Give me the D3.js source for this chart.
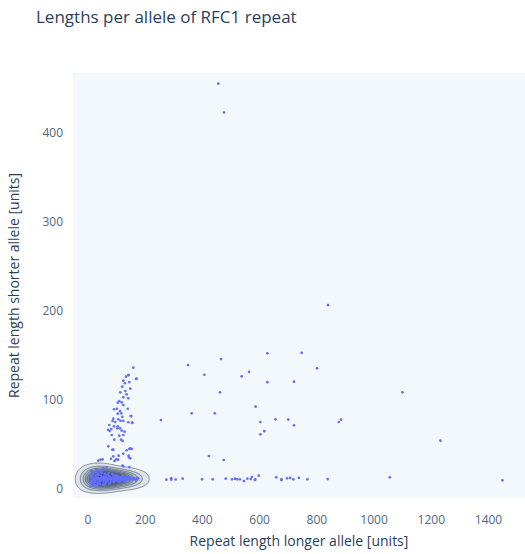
<!DOCTYPE html>
<html><head><meta charset="utf-8">
<script src="https://cdn.jsdelivr.net/npm/d3@7"></script>
<style>body{margin:0;background:#fff;}svg{display:block;font-family:"Open Sans",Verdana,Arial,sans-serif;}</style>
</head><body><div id="chart"></div>
<script>
const titleText = "Lengths per allele of RFC1 repeat";
const xLabel = "Repeat length longer allele [units]";
const yLabel = "Repeat length shorter allele [units]";
const xTicks = [0,200,400,600,800,1000,1200,1400];
const yTicks = [0,100,200,300,400];
const xDomain = [-52.4, 1527.6];
const yDomain = [-10.1, 467.4];

// dense cluster of common alleles [longer, shorter]
const clusterPoints = [
[10,3],[12,6],[11,9],[13,12],[10,15],[14,18],[12,20],[15,4],[16,8],[18,11],[17,14],[19,17],
[22,5],[25,8],[24,12],[27,15],[28,19],[30,22],[32,4],[34,7],[35,10],[36,13],[38,16],[40,20],
[42,6],[44,9],[45,12],[46,15],[48,18],[50,21],[52,5],[54,8],[55,11],[56,14],[58,17],[60,10],
[62,7],[64,13],[66,16],[68,9],[70,12],[72,15],[74,6],[76,11],[78,14],[80,9],[82,12],[84,17],
[86,10],[88,13],[90,8],[92,11],[94,15],[96,10],[98,13],[100,9],[102,12],[104,11],[106,14],
[108,10],[110,12],[112,9],[114,13],[116,11],[118,12],[120,10],[124,13],[126,11],[130,12],
[134,10],[136,13],[140,11],[144,12],[148,10],[150,13],[155,11],[160,12],[165,11],[170,12],
[30,11],[33,12],[40,11],[42,12],[48,11],[50,12],[55,10],[58,12],[62,11],[66,12],[70,10],
[75,12],[80,11],[85,12],[90,11],[95,12],[20,10],[25,11],[38,9],[46,10],[52,13],[60,14],
[35,17],[44,19],[28,13],[31,16],[26,9],[37,6],[58,5],[64,8],[72,18],[78,7],[88,16],[100,15],
[110,8],[120,15],[130,9],[140,14],[175,12],[168,10]
];

// rising arm of expanded shorter alleles
const spikePoints = [
[158.5,136.3],[142,128],[133,126.2],[168,123.6],[123.5,121.7],[129,118.8],[144.5,120.2],
[120,115],[148,112.7],[113,108.6],[130.5,110],[135,106.4],[123.5,103],[141,102],[109.5,98.9],
[117.8,97.4],[104,97],[123.5,94.4],[139,90.2],[91,89.6],[101.4,90.2],[112,87.6],[116.5,85],
[104,84.6],[120,81.2],[151.4,82],[88.5,79],[106,78.3],[86,76.4],[114,76.7],[123.5,76.7],
[95.5,75.3],[141,75],[154,74.2],[74.5,71.9],[91,70.4],[104,70.4],[81.5,67.4],[112,68.2],
[70,66.6],[76,65.2],[102.5,68.2],[117.8,65.5],[128,64.4],[82.8,60.7],[109.5,59.9],[123.5,60.7],
[92,55.4],[115.4,55.4],[121,54],[71,48],[88.5,44.2],[144.5,45],[135,43.5],[152.8,45],
[123.5,39.7],[142,37.4],[88.5,36.7],[107,37.4],[148,34.5],[44,33],[51,33.4],[36,31.8],
[80.4,34],[93,31.5],[105,33],[123.5,25.5],[144.5,24.7],[65,24.4],[53.5,23.3],[121,26.2],
[147,45.3],[143,35.6],[141,128],[170,124],[155,74.5],[149,82],[85,44],[99,33.4]
];

// scattered expanded alleles
const outlierPoints = [
[455.6,455.4],[475.5,423],[839,206.7],[627,152.5],[747,153],[465,146],[800.7,135.6],
[537,126.6],[563,131.5],[627,120],[720,120.6],[1099,108.6],[586,92.5],[602.5,75.3],
[655,78.3],[700,78],[720,71.5],[616.5,65],[602.5,61.4],[876.5,75.3],[884.6,78],[1232,54.3],
[349.7,139.3],[406.7,128.4],[461.5,108.6],[362.5,85],[443,85],[255,77.5],[423,37],[474.5,32.6],
[531,10.9],[545,9],[557,11.6],[569,11.2],[573,13.5],[583,10.1],[585,10.9],[597,15],[658,13.1],
[676,10.9],[676,10],[696,12],[707,12.4],[718,10.9],[737,12.4],[767,10.9],[838,11.2],[1055,13.1],
[1449,9.8],[274,10.5],[291,12],[291,10.5],[306.5,10.7],[331,11.6],[398.6,10.9],[436,10.9],
[481.5,11.6],[503.5,10.9],[514,11.6],[521,10.9]
];

const W = 525, H = 554;
const plot = {left:73, right:525, top:73, bottom:498};
const svg = d3.select("#chart").append("svg").attr("width",W).attr("height",H);
const xS = d3.scaleLinear().domain(xDomain).range([plot.left, plot.right]);
const yS = d3.scaleLinear().domain(yDomain).range([plot.bottom, plot.top]);

svg.append("rect").attr("x",plot.left).attr("y",plot.top)
  .attr("width",plot.right-plot.left).attr("height",plot.bottom-plot.top).attr("fill","#f3f8fc");

svg.append("clipPath").attr("id","clip").append("rect")
  .attr("x",plot.left).attr("y",plot.top).attr("width",plot.right-plot.left).attr("height",plot.bottom-plot.top);
const g = svg.append("g").attr("clip-path","url(#clip)");

const allPts = clusterPoints.concat(spikePoints, outlierPoints);

// density contours of the common-allele core (anisotropic: stretch y before estimating)
const k = 1.8;
const dens = () => d3.contourDensity()
  .x(d => xS(d[0])).y(d => yS(d[1])*k)
  .size([W, H*k]).bandwidth(8.5).cellSize(1);
const probe = dens().thresholds(80)(clusterPoints);
const maxV = d3.max(probe, c => c.value);
const fracs = [0.04,0.13,0.22,0.31,0.4,0.49,0.58,0.67,0.76,0.85];
const contours = dens().thresholds(fracs.map(f => f*maxV))(clusterPoints);
const col = d3.interpolateRgb("#dce4ec","#0a3358");
const cg = g.append("g").attr("transform",`scale(1,${1/k})`);
cg.selectAll("path").data(contours).join("path")
  .attr("d", d3.geoPath())
  .attr("fill",(d,i)=>col(i/(contours.length-1)))
  .attr("stroke","#4a5560").attr("stroke-opacity",0.8)
  .attr("stroke-width",0.8).attr("vector-effect","non-scaling-stroke");

g.append("g").selectAll("circle").data(allPts).join("circle")
  .attr("cx",d=>xS(d[0])).attr("cy",d=>yS(d[1])).attr("r",1.35)
  .attr("fill","#636efa");

// axes labels
const tickCol = "#506784";
svg.append("g").selectAll("text").data(xTicks).join("text")
  .attr("x",d=>xS(d)).attr("y",524).attr("text-anchor","middle")
  .attr("font-size",12).attr("fill",tickCol).text(d=>d);
svg.append("g").selectAll("text").data(yTicks).join("text")
  .attr("x",63).attr("y",d=>yS(d)+4).attr("text-anchor","end")
  .attr("font-size",12).attr("fill",tickCol).text(d=>d);

svg.append("text").attr("x",(plot.left+plot.right)/2).attr("y",546).attr("text-anchor","middle")
  .attr("font-size",14).attr("fill","#2a3f5f").text(xLabel);
svg.append("text").attr("transform",`translate(19,${(plot.top+plot.bottom)/2}) rotate(-90)`)
  .attr("text-anchor","middle").attr("font-size",14).attr("fill","#2a3f5f").text(yLabel);
svg.append("text").attr("x",36).attr("y",23).attr("font-size",17).attr("fill","#2a3f5f").text(titleText);
</script></body></html>
